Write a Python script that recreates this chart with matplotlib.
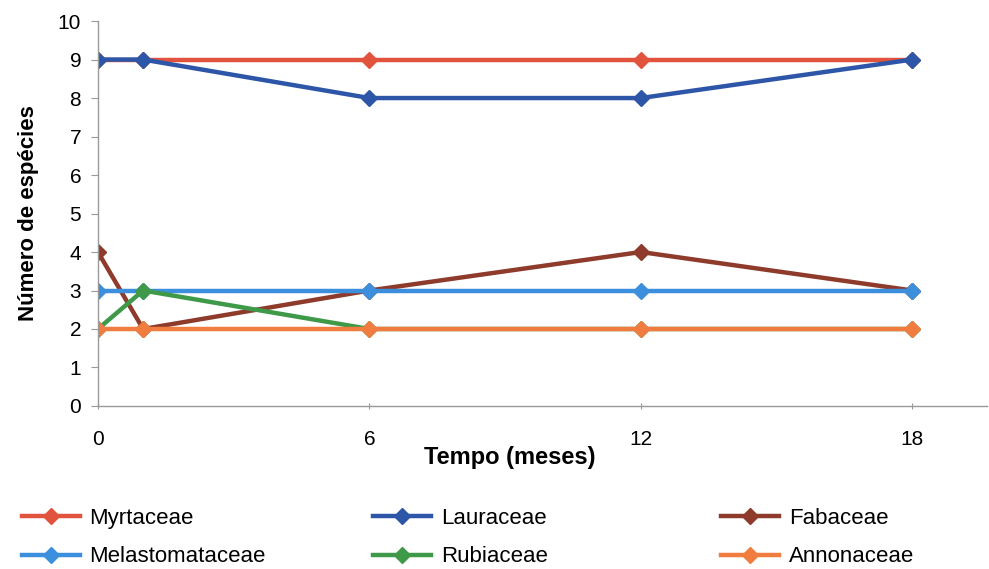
import matplotlib.pyplot as plt
from matplotlib.lines import Line2D

plt.rcParams['font.family'] = ['Liberation Sans', 'DejaVu Sans']

months = [0, 1, 6, 12, 18]
myrtaceae = [9, 9, 9, 9, 9]
lauraceae = [9, 9, 8, 8, 9]
fabaceae = [4, 2, 3, 4, 3]
melastomataceae = [3, 3, 3, 3, 3]
rubiaceae = [2, 3, 2, 2, 2]
annonaceae = [2, 2, 2, 2, 2]

families = ['Myrtaceae', 'Lauraceae', 'Fabaceae',
            'Melastomataceae', 'Rubiaceae', 'Annonaceae']
series = [myrtaceae, lauraceae, fabaceae, melastomataceae, rubiaceae, annonaceae]
colors = ['#E2533D', '#2E56A8', '#8E3B2C', '#3B8FDC', '#3E9A48', '#F07C40']

fig = plt.figure(figsize=(9.89, 5.69), dpi=100)
ax = fig.add_axes([0.099, 0.2865, 0.899, 0.6765])

for name, vals, c in zip(families, series, colors):
    ax.plot(months, vals, color=c, lw=3.2, marker='D', ms=8, label=name,
            solid_joinstyle='round')

ax.set_xlim(0, 19.65)
ax.set_ylim(0, 10)
ax.set_xticks([0, 6, 12, 18])
ax.set_yticks(range(0, 11))
ax.tick_params(axis='both', labelsize=15, color='#999999', length=5)
ax.tick_params(axis='x', direction='inout', pad=15)
ax.tick_params(axis='y', direction='out', pad=7)
for s in ['top', 'right']:
    ax.spines[s].set_visible(False)
for s in ['left', 'bottom']:
    ax.spines[s].set_color('#999999')
    ax.spines[s].set_linewidth(1)

ax.set_xlabel('Tempo (meses)', fontsize=17, fontweight='bold')
ax.set_ylabel('Número de espécies', fontsize=16, fontweight='bold')
ax.xaxis.set_label_coords(0.463, -0.103)
ax.yaxis.set_label_coords(-0.066, 0.5)

# legend: three columns placed by hand
col_x = [0.022, 0.377, 0.729]
for k, x0 in enumerate(col_x):
    idx = [k, k + 3]
    handles = [Line2D([], [], color=colors[i], lw=3.2, marker='D', ms=8) for i in idx]
    labels = [families[i] for i in idx]
    fig.legend(handles, labels, loc='upper left', bbox_to_anchor=(x0, 0.108),
               frameon=False, fontsize=16, handlelength=2.6,
               handletextpad=0.45, labelspacing=0.8, borderpad=0,
               borderaxespad=0)

fig.savefig('out.png', dpi=100)
